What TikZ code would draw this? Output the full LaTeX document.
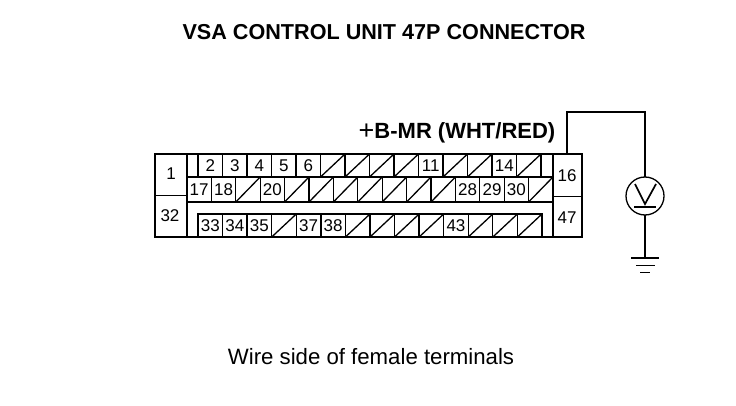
\documentclass[tikz,border=0pt]{standalone}
\usepackage{fontspec}
\setmainfont{Liberation Sans}
\tikzset{
  cellbox/.style={draw=black,line width=1.3pt,minimum width=#1,minimum height=0pt,inner sep=0pt,outer sep=0pt,anchor=north west,font=\fontsize{17}{18}\selectfont,align=center},
  slash/.style={draw=black,line width=1.3pt},
  wire/.style={draw=black,line width=1.2pt},
  frame/.style={draw=black,line width=1.6pt},
  pinlabel/.style={font=\fontsize{17}{18}\selectfont}
}
\begin{document}
\begin{tikzpicture}[x=1pt,y=-1pt]
\useasboundingbox (0,0) rectangle (736,406);
\node[font=\bfseries\fontsize{21.6}{24}\selectfont] (title) at (384,32) {VSA CONTROL UNIT 47P CONNECTOR};
\node[font=\bfseries\fontsize{22}{24}\selectfont] (pin) at (457,132.5) {\raisebox{-1.5pt}{\mdseries\fontsize{27}{24}\selectfont+}B-MR (WHT/RED)};
\node[font=\fontsize{22.2}{24}\selectfont] (caption) at (371,357) {Wire side of female terminals};

% outer frame
\coordinate (ftl) at (155,154);
\coordinate (fbr) at (582,237);
\draw[frame] (ftl) rectangle (fbr);
\draw[frame] (187,154) -- (187,237);
\draw[frame] (553,154) -- (553,237);
\draw[wire,line width=0.8pt] (155,195) -- (187,195);
\draw[wire,line width=0.8pt] (553,196) -- (582,196);
\draw[frame] (187,202) -- (553,202);
\draw[frame] (187,177) -- (553,177);

\node[pinlabel] (n1) at (171,174) {1};
\node[pinlabel] (n32) at (170,216) {32};
\node[pinlabel] (n16) at (567,176) {16};
\node[pinlabel] (n47) at (567,218) {47};

% row 1
\foreach \i/\t in {0/2,1/3,2/4,3/5,4/6,5/,6/,7/,8/,9/11,10/,11/,12/14,13/}{
  \pgfmathsetmacro{\xx}{198+24.5*\i}
  \node[cellbox=24.5pt,minimum height=23pt] (a\i) at (\xx,154) {\t};
  \ifx\t\empty\draw[slash] (a\i.south west) -- (a\i.north east);\fi
}
% row 2
\foreach \i/\t in {0/17,1/18,2/,3/20,4/,5/,6/,7/,8/,9/,10/,11/28,12/29,13/30,14/}{
  \pgfmathsetmacro{\xx}{187+24.4*\i}
  \node[cellbox=24.4pt,minimum height=25pt] (b\i) at (\xx,177) {\t};
  \ifx\t\empty\draw[slash] (b\i.south west) -- (b\i.north east);\fi
}
% row 3
\foreach \i/\t in {0/33,1/34,2/35,3/,4/37,5/38,6/,7/,8/,9/,10/43,11/,12/,13/}{
  \pgfmathsetmacro{\xx}{198+24.57*\i}
  \node[cellbox=24.57pt,minimum height=23pt] (c\i) at (\xx,214) {\t};
  \ifx\t\empty\draw[slash] (c\i.south west) -- (c\i.north east);\fi
}

% meter
\node[draw=black,line width=1.3pt,circle,minimum size=38pt,inner sep=0pt,outer sep=0pt] (vm) at (645,196) {};
\draw[line width=1.7pt] (635,184) -- (645,204) -- (656,184);
\draw[line width=1.7pt] (634,207) -- (656,207);
\coordinate (pin16) at (567,154);
\coordinate (corner1) at (567,112);
\coordinate (corner2) at (645,112);
\coordinate (gnd) at (645,258);
\draw[wire] (pin16) -- (corner1) -- (corner2) -- (vm.north);
\draw[wire] (vm.south) -- (gnd);
\draw[line width=1.3pt] (631,258) -- (659,258);
\draw[line width=1pt] (636,265) -- (655,265);
\draw[line width=0.9pt] (640,272) -- (650,272);
\end{tikzpicture}
\end{document}
